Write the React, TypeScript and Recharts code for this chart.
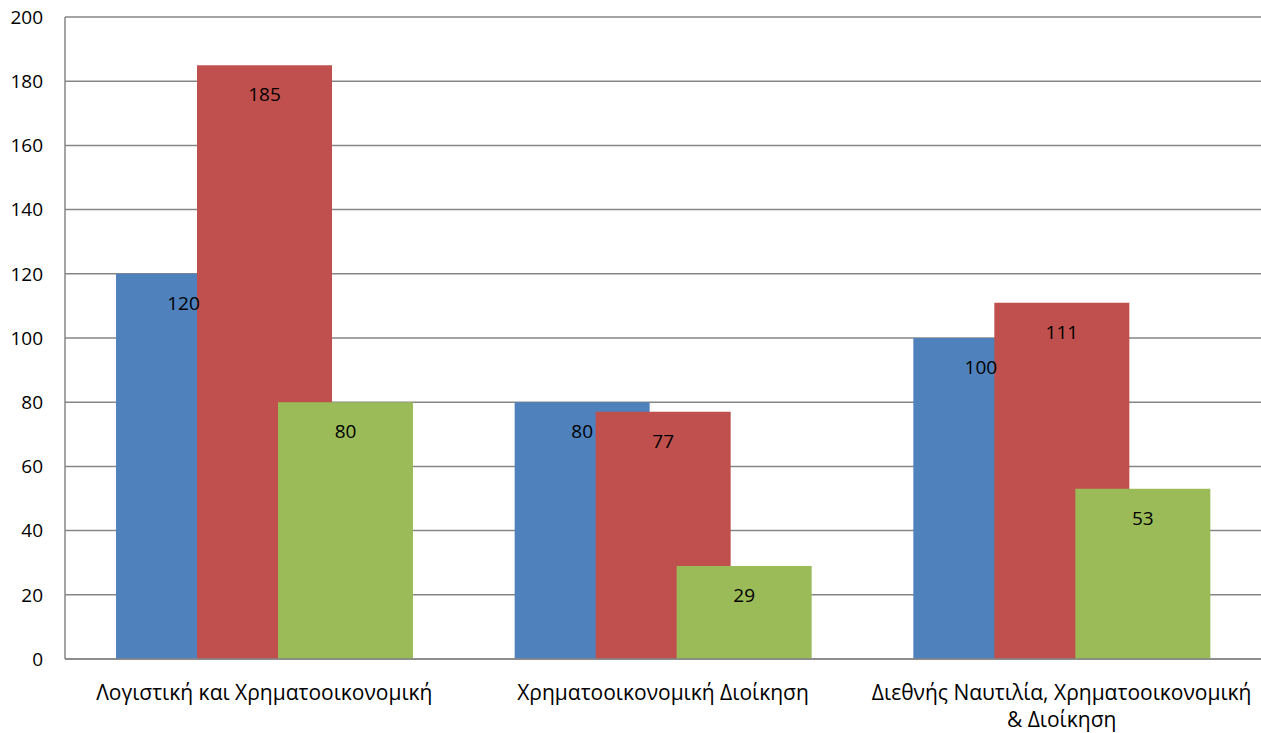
import { Bar, BarChart, CartesianGrid, LabelList, XAxis, YAxis } from "recharts";

const categories = [
  "Λογιστική και Χρηματοοικονομική",
  "Χρηματοοικονομική Διοίκηση",
  "Διεθνής Ναυτιλία, Χρηματοοικονομική & Διοίκηση",
];
const series1 = [120, 80, 100];
const series2 = [185, 77, 111];
const series3 = [80, 29, 53];
const yTicks = [0, 20, 40, 60, 80, 100, 120, 140, 160, 180, 200];

const data = categories.map((name, i) => ({
  name,
  s1: series1[i],
  s2: series2[i],
  s3: series3[i],
}));

const font = "'Open Sans', 'Noto Sans', sans-serif";
const gridColor = "#868686";

// wrap words by character count, Excel breaks the long label in two lines
function wrap(label: string, maxChars: number) {
  const lines: string[] = [];
  let cur = "";
  label.split(" ").forEach((w) => {
    const next = cur ? cur + " " + w : w;
    if (next.length > maxChars && cur) {
      lines.push(cur);
      cur = w;
    } else {
      cur = next;
    }
  });
  if (cur) lines.push(cur);
  return lines;
}

function CategoryTick(props: any) {
  const { x, y, payload } = props;
  const lines = wrap(String(payload.value), 35);
  return (
    <text
      x={x}
      y={y}
      textAnchor="middle"
      fontSize={21}
      fontFamily={font}
      fill="#000000"
    >
      {lines.map((line, i) => (
        <tspan key={i} x={x} y={y + 25 + i * 27} dominantBaseline="central">
          {line}
        </tspan>
      ))}
    </text>
  );
}

function InsideLabel(props: any) {
  const { x, y, width, value } = props;
  return (
    <text
      x={x + width / 2}
      y={y + 29}
      textAnchor="middle"
      dominantBaseline="central"
      fontSize={19}
      fontFamily={font}
      fill="#000000"
    >
      {value}
    </text>
  );
}

export default function App() {
  return (
    <div style={{ position: "absolute", left: 0, top: 0, background: "#fff" }}>
      <BarChart
        width={1261}
        height={733}
        data={data}
        margin={{ top: 17, right: 0, left: 0, bottom: 0 }}
        barSize={135}
        barGap={-54}
      >
        <CartesianGrid vertical={false} stroke={gridColor} strokeWidth={1.5} />
        <XAxis
          dataKey="name"
          height={74}
          axisLine={{ stroke: gridColor, strokeWidth: 1.5 }}
          tickLine={false}
          interval={0}
          tick={<CategoryTick />}
        />
        <YAxis
          width={65}
          domain={[0, 200]}
          ticks={yTicks}
          axisLine={{ stroke: gridColor, strokeWidth: 1.5 }}
          tickLine={false}
          tickMargin={16}
          tick={{ fill: "#000000", fontSize: 19, fontFamily: font }}
        />
        <Bar dataKey="s1" fill="#4F81BD" isAnimationActive={false}>
          <LabelList dataKey="s1" content={<InsideLabel />} />
        </Bar>
        <Bar dataKey="s2" fill="#C0504D" isAnimationActive={false}>
          <LabelList dataKey="s2" content={<InsideLabel />} />
        </Bar>
        <Bar dataKey="s3" fill="#9BBB59" isAnimationActive={false}>
          <LabelList dataKey="s3" content={<InsideLabel />} />
        </Bar>
      </BarChart>
    </div>
  );
}
